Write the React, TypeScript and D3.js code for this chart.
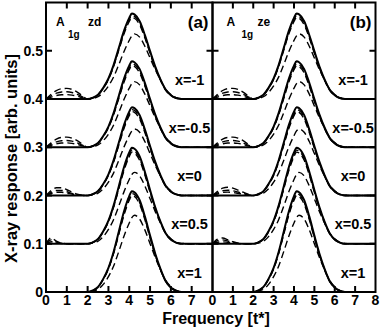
import React, { useEffect, useRef } from 'react';
import * as d3 from 'd3';

// frequency grid the curves were read on
const freq = [0, 0.25, 0.5, 0.75, 1, 1.25, 1.5, 1.75, 2, 2.25, 2.5, 2.75, 3, 3.25, 3.5, 3.75, 4, 4.125, 4.25, 4.5, 4.75, 5, 5.25, 5.5, 5.75, 6, 6.25, 6.5, 7, 7.5, 8];

// normalized main peak (solid and the two close dashed curves)
const mainShape = [0, 0, 0, 0, 0, 0, 0, 0, 0, 0.015, 0.05, 0.13, 0.24, 0.4, 0.6, 0.8, 0.95, 1.0, 0.99, 0.91, 0.75, 0.56, 0.38, 0.23, 0.11, 0.045, 0.012, 0, 0, 0, 0];
// lowest dashed curve sits a little to the right
const lowShape = [0, 0, 0, 0, 0, 0, 0, 0, 0, 0.01, 0.035, 0.1, 0.2, 0.34, 0.53, 0.73, 0.9, 0.97, 1.0, 0.95, 0.81, 0.63, 0.45, 0.29, 0.15, 0.07, 0.02, 0.005, 0, 0, 0];

const dopings = ['x=-1', 'x=-0.5', 'x=0', 'x=0.5', 'x=1'];
const offsets = [0.4, 0.3, 0.2, 0.1, 0];

const solidPeaks = [0.177, 0.178, 0.183, 0.199, 0.209];
const dash1Peaks = [0.173, 0.173, 0.178, 0.194, 0.204];
const dash2Peaks = [0.169, 0.169, 0.174, 0.19, 0.2];
const dash3Peaks = [0.135, 0.136, 0.138, 0.148, 0.159];

// low-frequency bumps of the dashed curves, on freq 0..2
const bumpShapesA = [
  [0, 0.45, 0.8, 0.97, 1, 0.9, 0.65, 0.3, 0],
  [0, 0.45, 0.8, 0.97, 1, 0.9, 0.65, 0.3, 0],
  [0, 0.6, 0.95, 0.95, 0.7, 0.4, 0.15, 0.03, 0],
  [0, 1, 0.45, 0.1, 0, 0, 0, 0, 0],
  [0, 0, 0, 0, 0, 0, 0, 0, 0],
];
const bumpShapesB = [
  [0, 0.45, 0.8, 0.97, 1, 0.9, 0.65, 0.3, 0],
  [0, 0.45, 0.8, 0.97, 1, 0.9, 0.65, 0.3, 0],
  [0, 0.5, 0.9, 1, 0.9, 0.65, 0.4, 0.15, 0],
  [0, 0.8, 1, 0.7, 0.35, 0.1, 0, 0, 0],
  [0, 0, 0, 0, 0, 0, 0, 0, 0],
];
const bump1 = [0.022, 0.021, 0.017, 0.012, 0];
const bump2 = [0.015, 0.014, 0.011, 0.008, 0];
const bump3 = [0.009, 0.009, 0.007, 0.004, 0];

const panelNames = ['(a)', '(b)'];
const panelTags = ['zd', 'ze'];
const xTicks = [0, 1, 2, 3, 4, 5, 6, 7, 8];
const yTicks = [0, 0.1, 0.2, 0.3, 0.4, 0.5];

const App = () => {
  const chartRef = useRef<SVGSVGElement>(null);

  useEffect(() => {
    const width = 382;
    const height = 330;
    const top = 2.5;
    const bottom = 292;
    const edges = [46, 212.5, 375.5];
    const font = '"Liberation Sans", Arial, Helvetica, sans-serif';

    const svg = d3.select(chartRef.current)
      .attr('width', width)
      .attr('height', height)
      .style('font-family', font)
      .style('font-weight', 'bold');

    const y = d3.scaleLinear().domain([0, 0.6]).range([bottom, top]);

    panelNames.forEach((name, p) => {
      const x = d3.scaleLinear().domain([0, 8]).range([edges[p], edges[p + 1]]);
      const g = svg.append('g');
      const bumps = p === 0 ? bumpShapesA : bumpShapesB;

      const line = d3.line<number>()
        .x((_, i) => x(freq[i]))
        .y(d => y(d))
        .curve(d3.curveMonotoneX);

      offsets.forEach((base, k) => {
        const curve = (peak: number, shape: number[], bump: number) =>
          freq.map((_, i) => base + peak * shape[i] + (i < 9 ? bump * bumps[k][i] : 0));

        const dashed = [
          curve(dash3Peaks[k], lowShape, bump1[k]),
          curve(dash2Peaks[k], mainShape, bump2[k]),
          curve(dash1Peaks[k], mainShape, bump3[k]),
        ];
        dashed.forEach(vals => {
          g.append('path')
            .attr('d', line(vals))
            .attr('fill', 'none')
            .attr('stroke', '#000')
            .attr('stroke-width', 1.4)
            .attr('stroke-dasharray', '7,4');
        });
        g.append('path')
          .attr('d', line(curve(solidPeaks[k], mainShape, 0)))
          .attr('fill', 'none')
          .attr('stroke', '#000')
          .attr('stroke-width', 2);

        g.append('text')
          .attr('x', x(6.9))
          .attr('y', y(base + 0.04) + 5)
          .attr('text-anchor', 'middle')
          .attr('font-size', 14.5)
          .text(dopings[k]);
      });

      // frame
      g.append('rect')
        .attr('x', edges[p])
        .attr('y', top)
        .attr('width', edges[p + 1] - edges[p])
        .attr('height', bottom - top)
        .attr('fill', 'none')
        .attr('stroke', '#000')
        .attr('stroke-width', 2);

      // x ticks on bottom and top, inward
      xTicks.slice(1, 8).forEach(t => {
        g.append('line').attr('x1', x(t)).attr('x2', x(t)).attr('y1', bottom).attr('y2', bottom - 6)
          .attr('stroke', '#000').attr('stroke-width', 2);
        g.append('line').attr('x1', x(t)).attr('x2', x(t)).attr('y1', top).attr('y2', top + 6)
          .attr('stroke', '#000').attr('stroke-width', 2);
      });
      const labels = p === 0 ? xTicks.slice(0, 8) : xTicks;
      labels.forEach(t => {
        g.append('text')
          .attr('x', x(t))
          .attr('y', bottom + 12.5)
          .attr('text-anchor', 'middle')
          .attr('font-size', 14)
          .text(t);
      });

      // y ticks on both sides, inward
      yTicks.slice(1).forEach(t => {
        g.append('line').attr('x1', edges[p]).attr('x2', edges[p] + 6).attr('y1', y(t)).attr('y2', y(t))
          .attr('stroke', '#000').attr('stroke-width', 2);
        g.append('line').attr('x1', edges[p + 1]).attr('x2', edges[p + 1] - 6).attr('y1', y(t)).attr('y2', y(t))
          .attr('stroke', '#000').attr('stroke-width', 2);
      });

      const tagX = p === 0 ? [10, 22, 42] : [14, 29, 45];
      g.append('text').attr('x', edges[p] + tagX[0]).attr('y', 25.5).attr('font-size', 12).text('A');
      g.append('text').attr('x', edges[p] + tagX[1]).attr('y', 38).attr('font-size', 10).text('1g');
      g.append('text').attr('x', edges[p] + tagX[2]).attr('y', 25.5).attr('font-size', 12).text(panelTags[p]);
      g.append('text')
        .attr('x', edges[p + 1] - 4)
        .attr('y', 28)
        .attr('text-anchor', 'end')
        .attr('font-size', 17)
        .text(name);
    });

    // y tick labels
    yTicks.forEach(t => {
      svg.append('text')
        .attr('x', 43)
        .attr('y', y(t) + 5)
        .attr('text-anchor', 'end')
        .attr('font-size', 14)
        .text(t === 0 ? '0' : d3.format('.1f')(t));
    });

    svg.append('text')
      .attr('transform', `translate(16.5,${158.5}) rotate(-90)`)
      .attr('text-anchor', 'middle')
      .attr('font-size', 16.5)
      .text('X-ray response [arb. units]');

    svg.append('text')
      .attr('x', 216)
      .attr('y', 324)
      .attr('text-anchor', 'middle')
      .attr('font-size', 16)
      .text('Frequency [t*]');

    return () => {
      d3.select(chartRef.current).selectAll('*').remove();
    };
  }, []);

  return (
    <svg ref={chartRef} style={{ position: 'absolute', left: 0, top: 0 }}></svg>
  );
};

export default App;
